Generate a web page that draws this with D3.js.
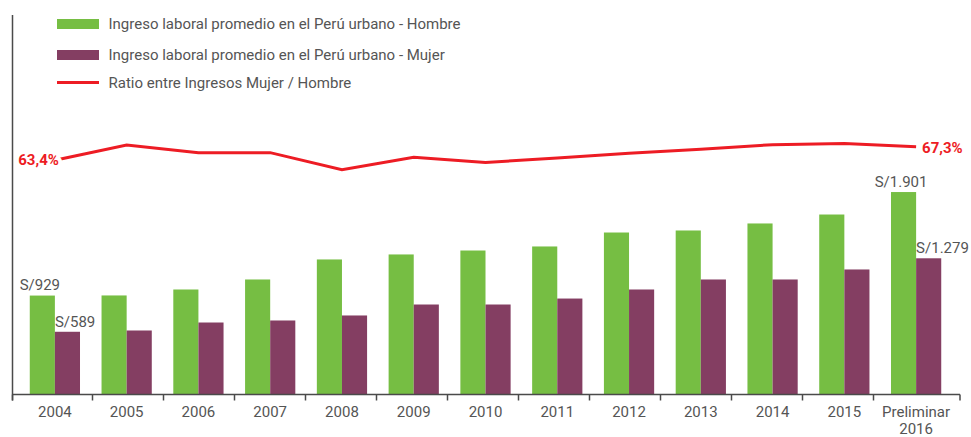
<!DOCTYPE html>
<html>
<head>
<meta charset="utf-8">
<script src="https://cdn.jsdelivr.net/npm/d3@7/dist/d3.min.js"></script>
<style>
  html, body { margin: 0; padding: 0; background: #fff; }
  svg { display: block; font-family: Roboto, "DejaVu Sans", sans-serif; }
</style>
</head>
<body>
<svg id="chart" width="971" height="437"></svg>
<script>
const categories = ["2004","2005","2006","2007","2008","2009","2010","2011","2012","2013","2014","2015","Preliminar 2016"];
const hombre = [929, 930, 986, 1080, 1268, 1315, 1352, 1390, 1521, 1540, 1606, 1690, 1901];
const mujer  = [589, 601, 676, 695, 742, 845, 845, 901, 986, 1080, 1080, 1174, 1279];
const ratio  = [63.4, 67.8, 65.6, 65.6, 60.7, 64.3, 62.8, 64.1, 65.4, 66.6, 67.9, 68.2, 67.3];
const legendLabels = [
  "Ingreso laboral promedio en el Perú urbano - Hombre",
  "Ingreso laboral promedio en el Perú urbano - Mujer",
  "Ratio entre Ingresos Mujer / Hombre"
];
const colors = { hombre: "#76be43", mujer: "#843e62", ratio: "#ed1c24", text: "#555555", axis: "#4a4a4a" };

const fmtSoles = v => "S/" + (v >= 1000 ? d3.format(",")(v).replace(/,/g, ".") : v);
const fmtPct = v => d3.format(".1f")(v).replace(".", ",") + "%";

const svg = d3.select("#chart");
const baseY = 394.5;

const x = d3.scaleBand().domain(categories).range([19, 952]).paddingInner(0.3).paddingOuter(0.15);
const xSub = d3.scaleBand().domain(["hombre", "mujer"]).range([0, x.bandwidth()]);
const xTick = d3.scaleBand().domain(categories).range([21.5, 944.5]);
const y = d3.scaleLinear().domain([0, 2000]).range([baseY, baseY - 213]);
const yR = d3.scaleLinear().domain([0, 100]).range([381.6, 32.6]);

// Bars
const rows = categories.map((c, i) => ({ c, i, hombre: hombre[i], mujer: mujer[i] }));
const g = svg.append("g");
g.selectAll("rect.h").data(rows).join("rect")
  .attr("x", d => x(d.c) + xSub("hombre"))
  .attr("y", d => y(d.hombre))
  .attr("width", xSub.bandwidth())
  .attr("height", d => y(0) - y(d.hombre))
  .attr("fill", colors.hombre);
g.selectAll("rect.m").data(rows).join("rect")
  .attr("x", d => x(d.c) + xSub("mujer"))
  .attr("y", d => y(d.mujer))
  .attr("width", xSub.bandwidth())
  .attr("height", d => y(0) - y(d.mujer))
  .attr("fill", colors.mujer);

// Value labels (first and last)
[0, categories.length - 1].forEach(i => {
  const c = categories[i];
  svg.append("text")
    .attr("x", x(c) + xSub("hombre") + xSub.bandwidth() / 2 - 2.5)
    .attr("y", y(hombre[i]) - 5.5)
    .attr("text-anchor", "middle")
    .attr("font-size", 15).attr("fill", colors.text)
    .text(fmtSoles(hombre[i]));
  svg.append("text")
    .attr("x", x(c) + xSub("mujer"))
    .attr("y", y(mujer[i]) - 5)
    .attr("text-anchor", "start")
    .attr("font-size", 15).attr("fill", colors.text)
    .text(fmtSoles(mujer[i]));
});

// Ratio line
const cx = c => x(c) + x.bandwidth() / 2;
const line = d3.line().x((d, i) => cx(categories[i])).y(d => yR(d));
svg.append("path").datum(ratio)
  .attr("d", line)
  .attr("fill", "none")
  .attr("stroke", colors.ratio)
  .attr("stroke-width", 3)
  .attr("stroke-linejoin", "miter");

// Ratio end labels
svg.append("text")
  .attr("x", cx(categories[0]) + 4)
  .attr("y", yR(ratio[0]) + 5)
  .attr("text-anchor", "end")
  .attr("font-size", 15).attr("font-weight", "bold")
  .attr("fill", colors.ratio)
  .attr("stroke", "#fff").attr("stroke-width", 8).attr("paint-order", "stroke")
  .text(fmtPct(ratio[0]));
const last = ratio.length - 1;
svg.append("text")
  .attr("x", cx(categories[last]) + 6)
  .attr("y", yR(ratio[last]) + 6)
  .attr("text-anchor", "start")
  .attr("font-size", 15).attr("font-weight", "bold")
  .attr("fill", colors.ratio)
  .text(fmtPct(ratio[last]));

// Axes
svg.append("line")
  .attr("x1", 12.5).attr("x2", 12.5).attr("y1", 15).attr("y2", baseY + 6)
  .attr("stroke", colors.axis).attr("stroke-width", 1.5);
svg.append("line")
  .attr("x1", 12.5).attr("x2", 960).attr("y1", baseY).attr("y2", baseY)
  .attr("stroke", colors.axis).attr("stroke-width", 1.5);
const tickXs = [12.5].concat(categories.slice(1).map(c => xTick(c))).concat([960]);
svg.selectAll("line.tick").data(tickXs).join("line")
  .attr("x1", d => d).attr("x2", d => d)
  .attr("y1", baseY).attr("y2", baseY + 6)
  .attr("stroke", colors.axis).attr("stroke-width", 1.5);

const labels = svg.selectAll("text.cat").data(categories).join("text")
  .attr("class", "cat")
  .attr("x", d => cx(d))
  .attr("y", 416.5)
  .attr("text-anchor", "middle")
  .attr("font-size", 15).attr("fill", colors.text);
labels.each(function(d) {
  const parts = d.split(" ");
  const t = d3.select(this);
  parts.forEach((p, k) => {
    t.append("tspan").attr("x", cx(d)).attr("dy", k === 0 ? 0 : 17.5).text(p);
  });
});

// Legend
const legY = [24, 55, 83];
const leg = svg.append("g");
leg.append("rect").attr("x", 57).attr("y", 19).attr("width", 42).attr("height", 10).attr("fill", colors.hombre);
leg.append("rect").attr("x", 57).attr("y", 50).attr("width", 42).attr("height", 10).attr("fill", colors.mujer);
leg.append("line").attr("x1", 57).attr("x2", 99).attr("y1", 82.5).attr("y2", 82.5)
  .attr("stroke", colors.ratio).attr("stroke-width", 3);
leg.selectAll("text").data(legendLabels).join("text")
  .attr("x", 108.5)
  .attr("y", (d, i) => legY[i] + 5)
  .attr("font-size", 15).attr("fill", colors.text)
  .text(d => d);
</script>
</body>
</html>
